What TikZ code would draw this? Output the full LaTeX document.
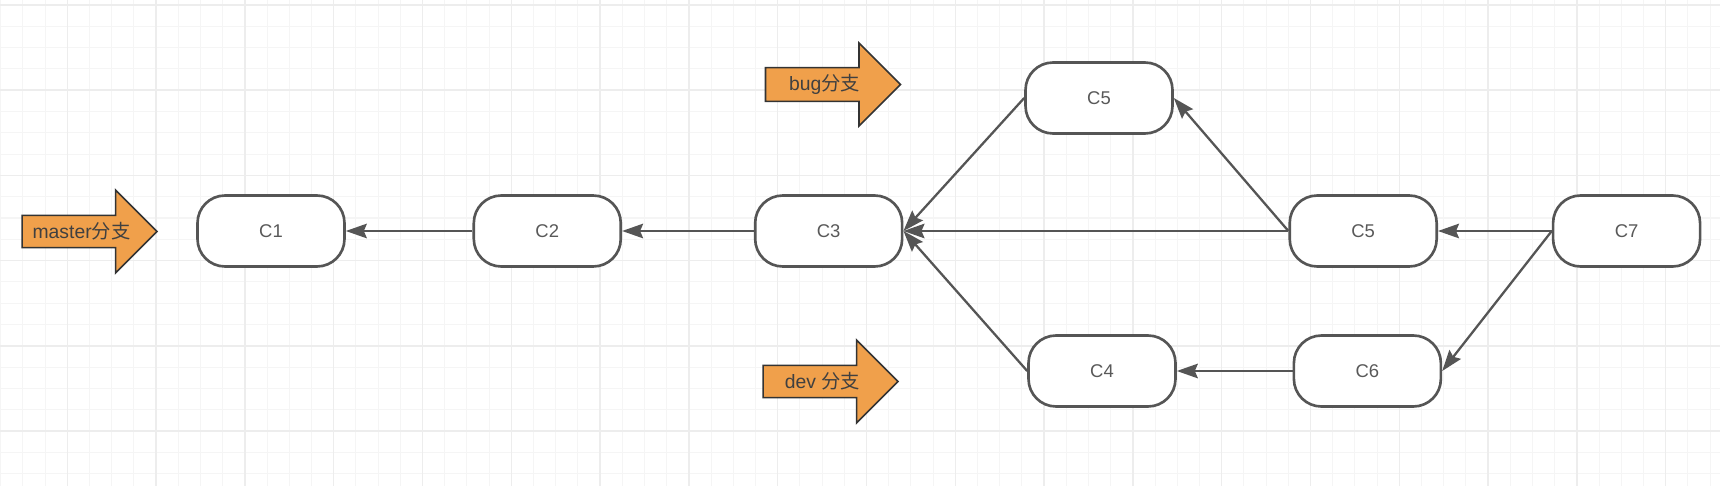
\documentclass[tikz,border=0pt]{standalone}
\usepackage{fontspec}
\setmainfont{Liberation Sans}
\newfontfamily\cjk{Noto Sans CJK SC}
\usepackage{tikz}
\usetikzlibrary{positioning, arrows.meta, shapes.arrows}

\definecolor{linegray}{HTML}{555555}
\definecolor{textgray}{HTML}{595959}
\definecolor{branchorange}{HTML}{F0A04B}

\begin{document}
\begin{tikzpicture}[x=0.02cm, y=-0.02cm, every node/.style={align=center}]
\tikzset{
  commit/.style={
    rectangle, draw=linegray, line width=1.5pt, rounded corners=0.55cm,
    minimum width=2.94cm, minimum height=1.42cm, fill=white,
    text=textgray, font=\fontsize{10.5}{12}\selectfont
  },
  branch/.style={
    single arrow, draw=black!80, line width=0.9pt, fill=branchorange,
    minimum height=2.7cm, minimum width=1.66cm,
    single arrow head extend=0.49cm, inner xsep=1pt, inner ysep=3.4pt,
    text=black!75, font=\fontsize{11}{13}\selectfont
  },
  arrow/.style={line width=1.3pt, draw=linegray, -{Stealth[length=0.42cm, width=0.29cm, inset=0.06cm]}},
  gridline/.style={draw=black!4, line width=0.6pt},
  gridmajor/.style={draw=black!7, line width=0.8pt}
}
\useasboundingbox (0,0) rectangle (1720,486);
\fill[white] (0,0) rectangle (1720,486);

% background grid
\foreach \k in {0,...,77} \draw[gridline] ({0.7+22.2*\k},0) -- ++(0,486);
\foreach \k in {0,...,22} \draw[gridline] (0,{5+21.3*\k}) -- ++(1720,0);
\foreach \k in {3,7,...,75} \draw[gridmajor] ({0.7+22.2*\k},0) -- ++(0,486);
\foreach \k in {0,4,...,20} \draw[gridmajor] (0,{5+21.3*\k}) -- ++(1720,0);

% commits
\node (c1) [commit] at (271,231) {C1};
\node (c2) [commit, right=2.534cm of c1] {C2};
\node (c3) [commit, right=2.636cm of c2] {C3};
\node (c5) [commit, right=7.70cm of c3] {C5};
\node (c7) [commit, right=2.276cm of c5] {C7};
\node (c5up) [commit] at (1099,98) {C5};
\node (c4) [commit] at (1102,371) {C4};
\node (c6) [commit, right=2.316cm of c4] {C6};

% branch pointers
\node (master) [branch] at (81.5,231.5) {master{\cjk 分支}};
\node (bug) [branch] at (824.5,84.5) {bug{\cjk 分支}};
\node (dev) [branch] at (822.5,381.5) {dev {\cjk 分支}};

\draw [arrow] (c2.west) -- (c1.east);
\draw [arrow] (c3.west) -- (c2.east);
\draw [arrow] (c5.west) -- (c3.east);
\draw [arrow] (c5up.west) -- (c3.east);
\draw [arrow] (c4.west) -- (c3.east);
\draw [arrow] (c5.west) -- (c5up.east);
\draw [arrow] (c7.west) -- (c5.east);
\draw [arrow] (c7.west) -- (c6.east);
\draw [arrow] (c6.west) -- (c4.east);
\end{tikzpicture}
\end{document}
